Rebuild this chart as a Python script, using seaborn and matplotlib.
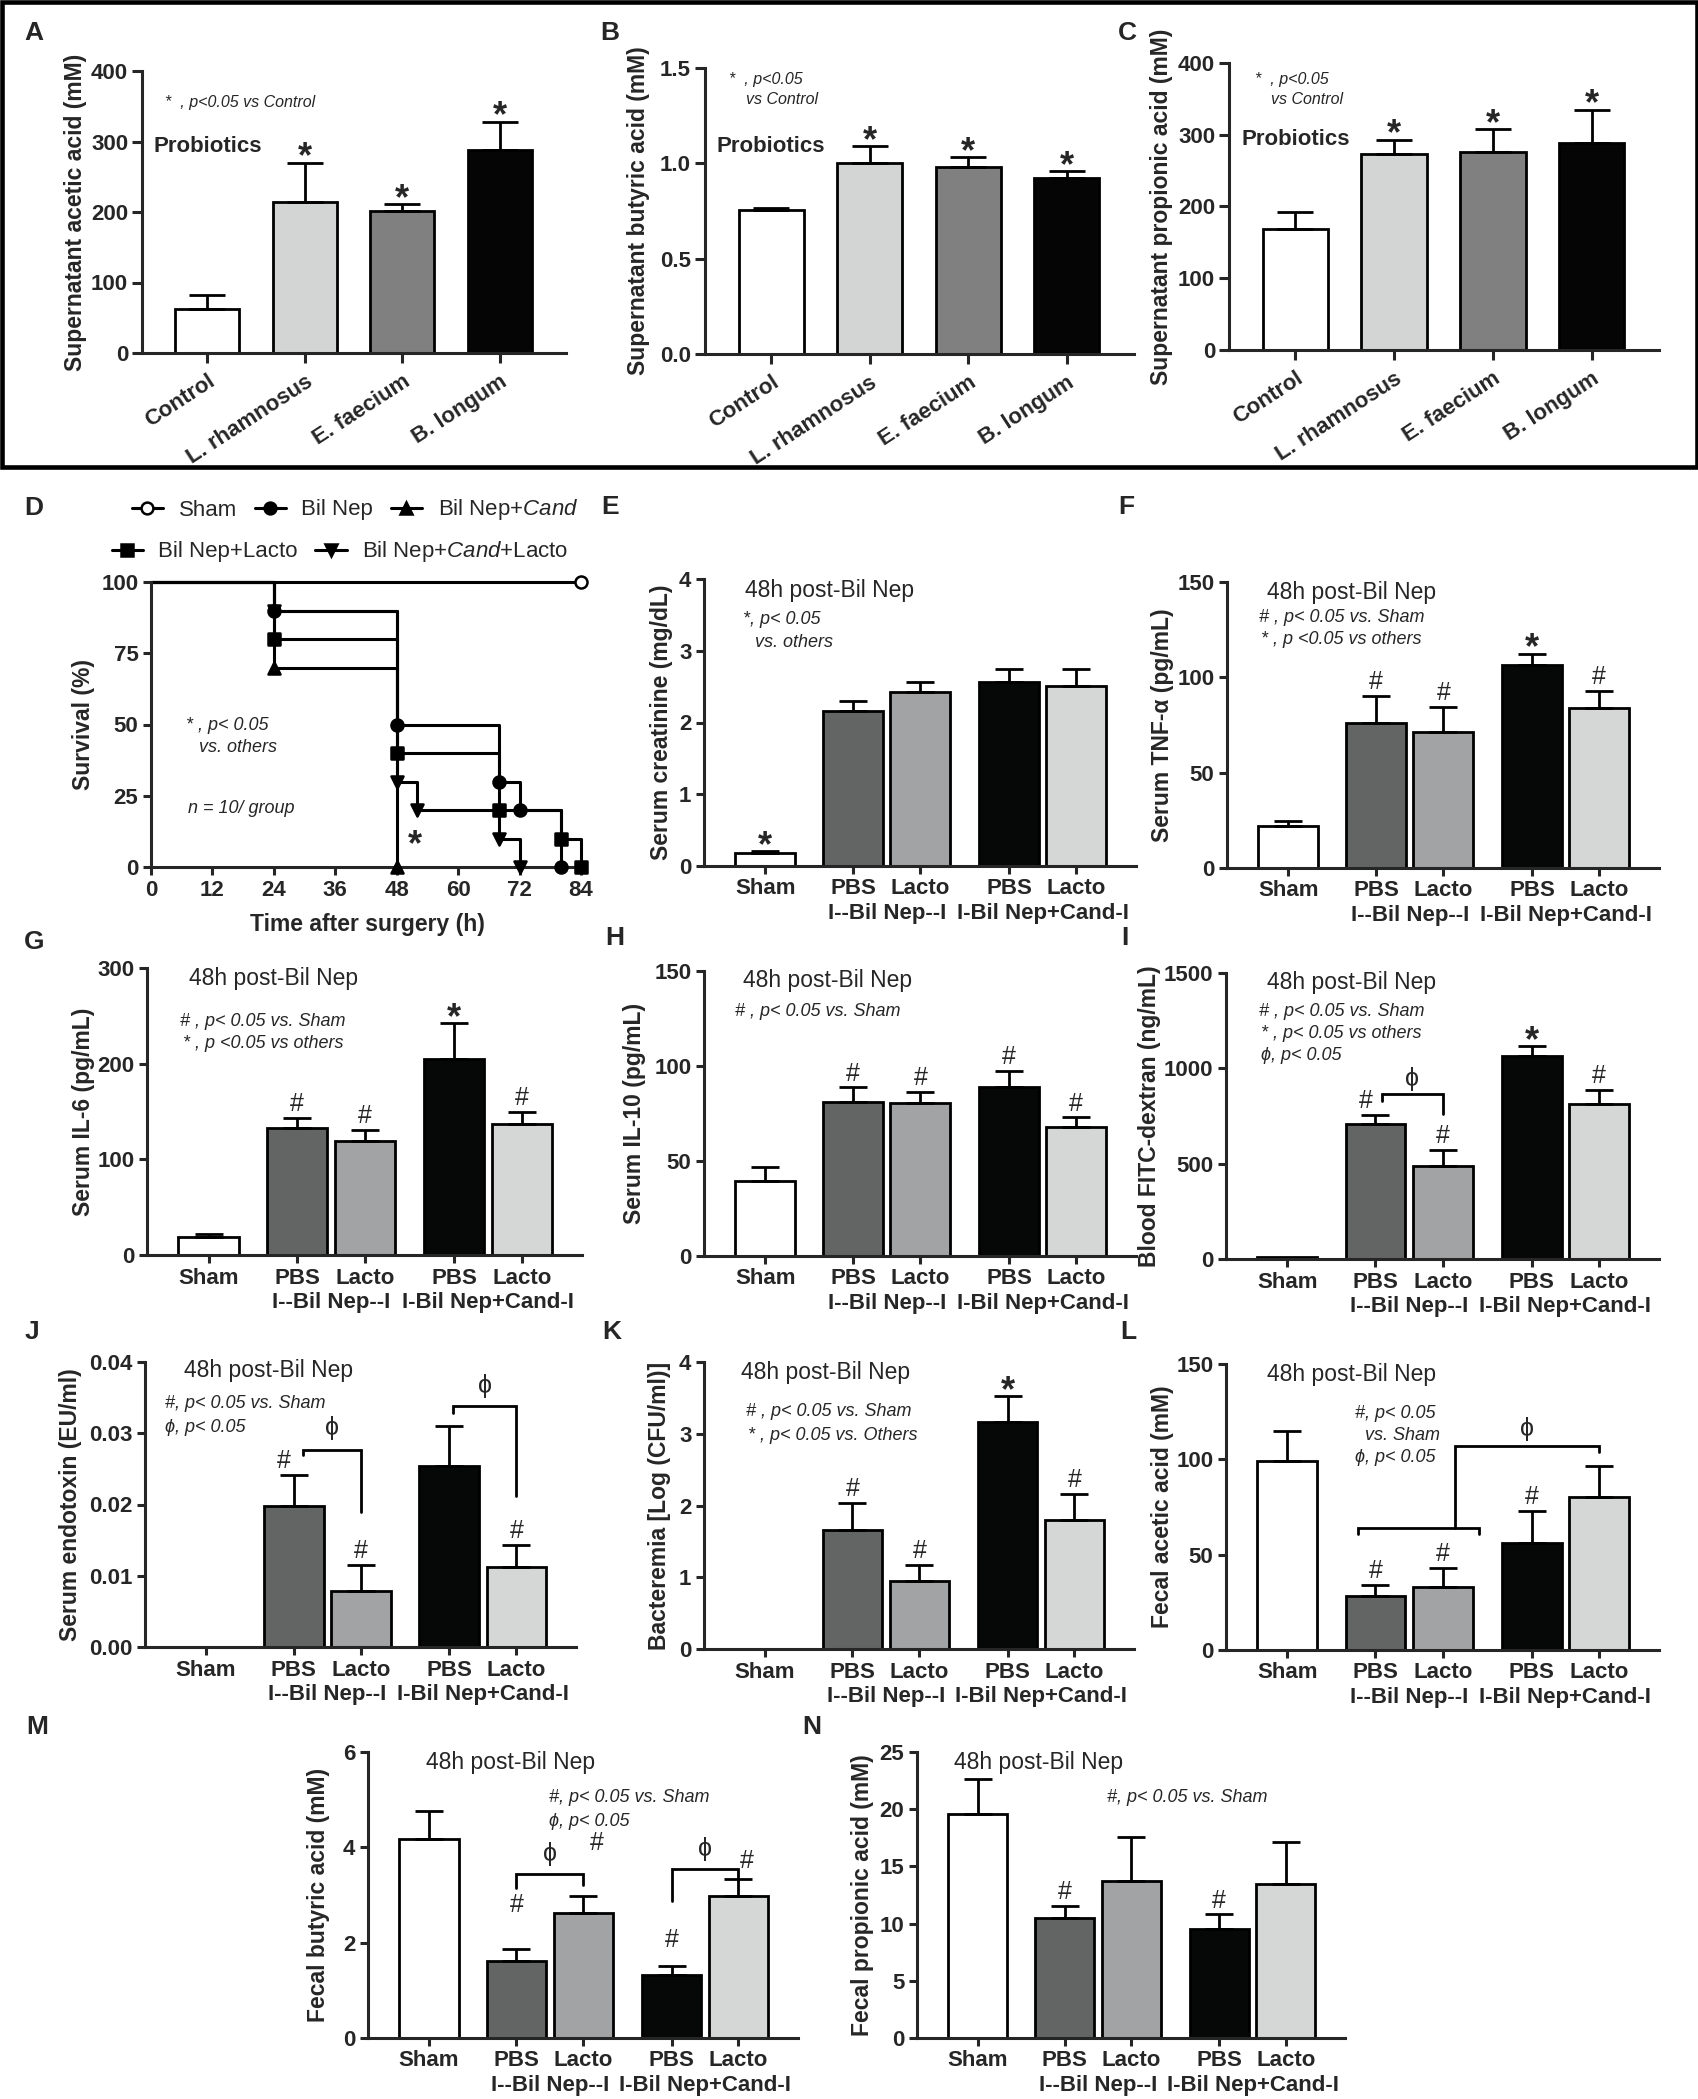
import numpy as np
import seaborn as sns
import matplotlib.pyplot as plt
from matplotlib.lines import Line2D
from matplotlib.patches import Rectangle

sns.set_style("ticks")
plt.rcParams["font.family"] = ["Liberation Sans", "DejaVu Sans"]
plt.rcParams["font.weight"] = "bold"
plt.rcParams["axes.labelweight"] = "bold"
plt.rcParams["mathtext.fontset"] = "custom"
plt.rcParams["mathtext.rm"] = "Liberation Sans:regular"
plt.rcParams["mathtext.it"] = "Liberation Sans:italic:regular"

# ---------------- data ----------------
probiotics = ["Control", "L. rhamnosus", "E. faecium", "B. longum"]
probiotic_colors = ["#ffffff", "#d3d4d4", "#808080", "#050505"]
sup_acetic = [63, 214, 202, 288]
sup_acetic_sem = [19, 56, 9, 40]
sup_butyric = [0.754, 1.002, 0.981, 0.923]
sup_butyric_sem = [0.012, 0.087, 0.050, 0.035]
sup_propionic = [169, 273, 276, 289]
sup_propionic_sem = [24, 20, 32, 46]

# survival (time h, % alive)
sham_t, sham_s = [0, 84], [100, 100]
bilnep_t, bilnep_s = [0, 24, 48, 68, 72, 80], [100, 90, 50, 30, 20, 0]
cand_t, cand_s = [0, 24, 48], [100, 70, 0]
lacto_t, lacto_s = [0, 24, 48, 68, 80, 84], [100, 80, 40, 20, 10, 0]
candlacto_t, candlacto_s = [0, 24, 48, 52, 68, 72], [100, 90, 30, 20, 10, 0]

groups = ["Sham", "PBS", "Lacto", "PBS", "Lacto"]
group_names = ["I--Bil Nep--I", "I-Bil Nep+Cand-I"]
group_colors = ["#ffffff", "#636464", "#a2a3a5", "#060808", "#d5d6d6"]

creatinine = [0.177, 2.165, 2.42, 2.56, 2.51]
creatinine_sem = [0.032, 0.135, 0.14, 0.19, 0.23]
tnf = [22.2, 75.9, 71.5, 106.7, 84.1]
tnf_sem = [2.2, 14.3, 13.1, 5.8, 8.7]
il6 = [19.2, 133, 119.6, 205, 136.7]
il6_sem = [2.4, 10.7, 11.2, 37.4, 12.9]
il10 = [39.6, 81.0, 80.3, 88.7, 68.0]
il10_sem = [7.4, 7.7, 6.1, 8.6, 4.9]
fitc = [8, 708, 486, 1066, 813]
fitc_sem = [0, 45, 87, 49, 75]
endotoxin = [0, 0.0198, 0.0079, 0.0254, 0.0112]
endotoxin_sem = [0, 0.0043, 0.0036, 0.0056, 0.0031]
bacteremia = [0, 1.663, 0.943, 3.164, 1.793]
bacteremia_sem = [0, 0.372, 0.232, 0.356, 0.372]
fecal_acetic = [99.1, 28.5, 33.2, 55.9, 80.4]
fecal_acetic_sem = [15.8, 5.6, 9.6, 17.0, 16.3]
fecal_butyric = [4.17, 1.62, 2.62, 1.33, 2.98]
fecal_butyric_sem = [0.59, 0.25, 0.35, 0.19, 0.35]
fecal_propionic = [19.6, 10.45, 13.7, 9.5, 13.5]
fecal_propionic_sem = [3.05, 1.05, 3.9, 1.3, 3.6]

# ---------------- layout ----------------
W, H = 1699, 2099
POS4 = [0, 1, 2, 3]
POS5 = [0, 1.31, 2.31, 3.63, 4.63]
TICK_FS = 16

fig = plt.figure(figsize=(W / 100, H / 100), dpi=100)


def add_ax(left, right, top, bottom):
    return fig.add_axes([left / W, 1 - bottom / H, (right - left) / W, (bottom - top) / H])


def ftext(x, y, s, **kw):
    kw.setdefault("va", "center")
    fig.text(x / W, 1 - y / H, s, **kw)


def note(x, y, s, size=13, **kw):
    ftext(x, y, s, fontsize=size, fontstyle="italic", fontweight="normal", **kw)


def ylab(x, ax, s):
    b = ax.get_position()
    fig.text(x / W, b.y0 + b.height / 2, s, rotation=90, ha="center", va="center",
             fontsize=16.5, fontweight="bold")


def style_ax(ax):
    sns.despine(ax=ax)
    for sp in ["left", "bottom"]:
        ax.spines[sp].set_linewidth(2.2)
    ax.tick_params(width=2.2, length=6, labelsize=TICK_FS, pad=3)


def bar_panel(ax, pos, vals, sem, colors, width, capsize, ylim, yticks):
    keys = [f"g{i}" for i in range(len(vals))]
    sns.barplot(x=pos, y=vals, hue=keys, palette=dict(zip(keys, colors)),
                native_scale=True, width=width, errorbar=None,
                edgecolor="black", linewidth=2, legend=False, ax=ax)
    idx = [i for i, s in enumerate(sem) if s > 0]
    ax.errorbar([pos[i] for i in idx], [vals[i] for i in idx],
                yerr=[[0] * len(idx), [sem[i] for i in idx]],
                fmt="none", ecolor="black", elinewidth=2, capsize=capsize, capthick=2)
    ax.set_ylim(*ylim)
    ax.set_yticks(yticks)
    ax.set_xticks(pos)
    style_ax(ax)


def mark(ax, x, top, sym):
    if sym == "*":
        ax.annotate("*", (x, top), xytext=(0, -3.5), textcoords="offset points",
                    ha="center", va="baseline", fontsize=26, fontweight="bold",
                    annotation_clip=False)
    elif sym == "#":
        ax.annotate("#", (x, top), xytext=(0, 5), textcoords="offset points",
                    ha="center", va="baseline", fontsize=18, fontweight="normal",
                    annotation_clip=False)


def hash_at(ax, x, y):
    ax.text(x, y, "#", ha="center", va="center", fontsize=18, fontweight="normal")


def group_panel(ax, vals, sem, ylim, yticks, marks, shifts=None):
    bar_panel(ax, POS5, vals, sem, group_colors, 0.89, 10, ylim, yticks)
    ax.set_xlim(-0.91, 5.52)
    ax.set_xticklabels(groups)
    for (a, b), name in zip([(1, 2), (3, 4)], group_names):
        ax.annotate(name, ((POS5[a] + POS5[b]) / 2, 0), xycoords=("data", "axes fraction"),
                    xytext=(0, -34.5), textcoords="offset points", ha="center", va="center",
                    fontsize=TICK_FS, fontweight="bold", annotation_clip=False)
    shifts = shifts or [0] * 5
    for i, sym in enumerate(marks):
        mark(ax, POS5[i] + shifts[i], vals[i] + sem[i], sym)


def bracket(ax, pts, phi_xy):
    ax.plot([p[0] for p in pts], [p[1] for p in pts], color="black", lw=2,
            clip_on=False, solid_joinstyle="miter")
    ax.text(phi_xy[0], phi_xy[1], "ϕ", ha="center", va="center", fontsize=18,
            fontweight="normal", clip_on=False)


# ---------------- A-C: supernatant SCFA ----------------
abc = [("A", (142, 566, 71, 353), sup_acetic, sup_acetic_sem, (0, 400), range(0, 401, 100),
        76, "Supernatant acetic acid (mM)"),
       ("B", (705, 1134, 68, 354), sup_butyric, sup_butyric_sem, (0, 1.5), [0, 0.5, 1.0, 1.5],
        638, "Supernatant butyric acid (mM)"),
       ("C", (1229, 1659, 63, 350), sup_propionic, sup_propionic_sem, (0, 400), range(0, 401, 100),
        1162, "Supernatant propionic acid (mM)")]
for letter, box, vals, sem, ylim, yt, lx, lab in abc:
    ax = add_ax(*box)
    bar_panel(ax, POS4, vals, sem, probiotic_colors, 0.66, 13, ylim, yt)
    ax.set_xlim(-0.67, 3.68)
    if letter == "B":
        ax.set_yticklabels(["0.0", "0.5", "1.0", "1.5"])
    ax.set_xticklabels(probiotics, rotation=33, ha="right", va="top", rotation_mode="anchor")
    ax.tick_params(axis="x", length=7, pad=6)
    ax.tick_params(axis="y", length=7)
    for i in range(1, 4):
        mark(ax, POS4[i], vals[i] + sem[i], "*")
    ylab(lx, ax, lab)

note(165, 103, "*  , p<0.05 vs Control", size=11.5)
note(729, 79, "*  , p<0.05", size=11.5)
note(746, 99, "vs Control", size=11.5)
note(1255, 79, "*  , p<0.05", size=11.5)
note(1271, 100, "vs Control", size=11.5)
ftext(154, 146, "Probiotics", fontsize=16, fontweight="bold")
ftext(717, 146, "Probiotics", fontsize=16, fontweight="bold")
ftext(1242, 140, "Probiotics", fontsize=16, fontweight="bold")

fig.add_artist(Rectangle((2 / W, 1 - 467 / H), 1695 / W, 465 / H, transform=fig.transFigure,
                         fill=False, lw=3.3, ec="black"))

# ---------------- D: survival ----------------
ax = add_ax(151, 581, 582, 867)
curves = [(sham_t, sham_s, "o", "white"), (bilnep_t, bilnep_s, "o", "black"),
          (cand_t, cand_s, "^", "black"), (lacto_t, lacto_s, "s", "black"),
          (candlacto_t, candlacto_s, "v", "black")]
for t, s, m, fc in curves:
    sns.lineplot(x=t, y=s, drawstyle="steps-post", color="black", lw=2.2, estimator=None,
                 legend=False, ax=ax, clip_on=False)
    sns.scatterplot(x=t[1:], y=s[1:], marker=m, s=75, color=fc, edgecolor="black",
                    linewidth=1.8, legend=False, ax=ax, clip_on=False, zorder=5)
ax.set_xlim(0, 84)
ax.set_ylim(0, 100)
ax.set_xticks(range(0, 85, 12))
ax.set_yticks([0, 25, 50, 75, 100])
style_ax(ax)
ylab(84, ax, "Survival (%)")
ftext(367, 925, "Time after surgery (h)", ha="center", fontsize=16.5, fontweight="bold")
note(186, 725, "* , p< 0.05")
note(199, 747, "vs. others")
note(188, 808, "n = 10/ group")
ftext(415, 846, "*", ha="center", fontsize=26, fontweight="bold")

labels = ["Sham", "Bil Nep", r"Bil Nep+$\mathit{Cand}$", "Bil Nep+Lacto",
          r"Bil Nep+$\mathit{Cand}$+Lacto"]
handles = [Line2D([], [], color="black", lw=2.2, marker=m, markersize=8.5,
                  markerfacecolor=fc, markeredgecolor="black", markeredgewidth=1.8)
           for _, _, m, fc in curves]
leg_kw = dict(frameon=False, prop={"size": 16, "weight": "normal"}, handlelength=1.4,
              handletextpad=0.7, columnspacing=0.8, loc="center", borderpad=0)
fig.legend(handles[:3], labels[:3], ncol=3, bbox_to_anchor=(355 / W, 1 - 510 / H), **leg_kw)
fig.legend(handles[3:], labels[3:], ncol=2, bbox_to_anchor=(340 / W, 1 - 552 / H), **leg_kw)

# ---------------- E-N: 48h post-Bil Nep ----------------
axE = add_ax(704, 1136, 579, 866)
group_panel(axE, creatinine, creatinine_sem, (0, 4), range(0, 5), ["*", "", "", "", ""])
ylab(662, axE, "Serum creatinine (mg/dL)")

axF = add_ax(1227, 1659, 582, 868)
group_panel(axF, tnf, tnf_sem, (0, 150), [0, 50, 100, 150], ["", "#", "#", "*", "#"])
ylab(1163, axF, "Serum TNF-α (pg/mL)")

axG = add_ax(147, 582, 968, 1255)
group_panel(axG, il6, il6_sem, (0, 300), [0, 100, 200, 300], ["", "#", "#", "*", "#"])
ylab(84, axG, "Serum IL-6 (pg/mL)")

axH = add_ax(704, 1136, 971, 1256)
group_panel(axH, il10, il10_sem, (0, 150), [0, 50, 100, 150], ["", "#", "#", "#", "#"])
ylab(635, axH, "Serum IL-10 (pg/mL)")

axI = add_ax(1226, 1659, 973, 1259)
group_panel(axI, fitc, fitc_sem, (0, 1500), [0, 500, 1000, 1500], ["", "#", "#", "*", "#"],
            shifts=[0, -0.14, 0, 0, 0])
xl = POS5[1] + 0.09
bracket(axI, [(xl, 827), (xl, 867), (POS5[2], 867), (POS5[2], 762)], ((xl + POS5[2]) / 2, 944))
ylab(1150, axI, "Blood FITC-dextran (ng/mL)")

axJ = add_ax(145, 576, 1362, 1647)
group_panel(axJ, endotoxin, endotoxin_sem, (0, 0.04), [0, 0.01, 0.02, 0.03, 0.04],
            ["", "#", "#", "", "#"], shifts=[0, -0.15, 0, 0, 0])
axJ.set_yticklabels(["0.00", "0.01", "0.02", "0.03", "0.04"])
x1 = POS5[1] + 0.13
bracket(axJ, [(x1, 0.0269), (x1, 0.0277), (POS5[2], 0.0277), (POS5[2], 0.0189)],
        ((x1 + POS5[2]) / 2, 0.0307))
x3 = POS5[3] + 0.05
bracket(axJ, [(x3, 0.0328), (x3, 0.0338), (POS5[4], 0.0338), (POS5[4], 0.0212)],
        ((x3 + POS5[4]) / 2, 0.0367))
ylab(71, axJ, "Serum endotoxin (EU/ml)")

axK = add_ax(704, 1134, 1362, 1649)
group_panel(axK, bacteremia, bacteremia_sem, (0, 4), range(0, 5), ["", "#", "#", "*", "#"])
ylab(660, axK, "Bacteremia [Log (CFU/ml)]")

axL = add_ax(1226, 1659, 1364, 1650)
group_panel(axL, fecal_acetic, fecal_acetic_sem, (0, 150), [0, 50, 100, 150],
            ["", "#", "#", "#", ""])
la, lb, lm = POS5[1] - 0.26, POS5[2] + 0.53, POS5[2] + 0.18
axL.plot([la, la, lb, lb], [60.8, 63.8, 63.8, 60.8], color="black", lw=2, solid_joinstyle="miter")
bracket(axL, [(lm, 63.8), (lm, 107.2), (POS5[4], 107.2), (POS5[4], 104)],
        ((lm + POS5[4]) / 2, 116))
ylab(1163, axL, "Fecal acetic acid (mM)")

axM = add_ax(368, 798, 1752, 2038)
group_panel(axM, fecal_butyric, fecal_butyric_sem, (0, 6), [0, 2, 4, 6],
            ["", "", "", "", ""])
bracket(axM, [(POS5[1], 3.15), (POS5[1], 3.45), (POS5[2], 3.45), (POS5[2], 3.2)],
        ((POS5[1] + POS5[2]) / 2, 3.85))
bracket(axM, [(POS5[3], 2.87), (POS5[3], 3.55), (POS5[4], 3.55), (POS5[4], 3.32)],
        ((POS5[3] + POS5[4]) / 2, 3.97))
hash_at(axM, POS5[1], 2.8)
hash_at(axM, POS5[2] + 0.2, 4.1)
hash_at(axM, POS5[3], 2.05)
hash_at(axM, POS5[4] + 0.12, 3.72)
ylab(319, axM, "Fecal butyric acid (mM)")

axN = add_ax(917, 1345, 1752, 2038)
group_panel(axN, fecal_propionic, fecal_propionic_sem, (0, 25), range(0, 26, 5),
            ["", "#", "", "#", ""])
ylab(863, axN, "Fecal propionic acid (mM)")

# panel annotations
for x, y in [(745, 590), (1267, 593), (189, 979), (743, 980), (1267, 983), (184, 1371),
             (741, 1373), (1267, 1374), (426, 1762), (954, 1762)]:
    ftext(x, y, "48h post-Bil Nep", fontsize=16.5, fontweight="normal")

note(743, 620, "*, p< 0.05")
note(755, 643, "vs. others")
note(1259, 617, "# , p< 0.05 vs. Sham")
note(1261, 640, "* , p <0.05 vs others")
note(180, 1022, "# , p< 0.05 vs. Sham")
note(183, 1044, "* , p <0.05 vs others")
note(735, 1012, "# , p< 0.05 vs. Sham")
note(1259, 1011, "# , p< 0.05 vs. Sham")
note(1261, 1033, "* , p< 0.05 vs others")
note(1261, 1056, "ϕ, p< 0.05")
note(165, 1403, "#, p< 0.05 vs. Sham")
note(165, 1427, "ϕ, p< 0.05")
note(746, 1412, "# , p< 0.05 vs. Sham")
note(748, 1435, "* , p< 0.05 vs. Others")
note(1436, 1413, "#, p< 0.05", ha="right")
note(1440, 1435, "vs. Sham", ha="right")
note(1436, 1457, "ϕ, p< 0.05", ha="right")
note(549, 1798, "#, p< 0.05 vs. Sham")
note(549, 1822, "ϕ, p< 0.05")
note(1107, 1798, "#, p< 0.05 vs. Sham")

# panel letters
for s, x, y in [("A", 34, 33), ("B", 610, 33), ("C", 1127, 33), ("D", 34, 508),
                ("E", 610, 507), ("F", 1126, 507), ("G", 34, 942), ("H", 615, 938),
                ("I", 1125, 938), ("J", 32, 1332), ("K", 612, 1332), ("L", 1128, 1332),
                ("M", 37, 1727), ("N", 812, 1727)]:
    ftext(x, y, s, ha="center", fontsize=19, fontweight="bold")

fig.savefig("out.png", dpi=100)
